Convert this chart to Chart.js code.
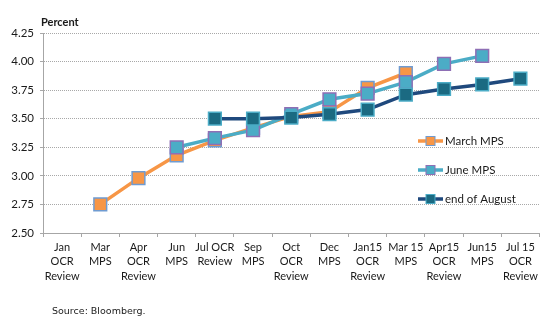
<!DOCTYPE html>
<html>
<head>
<meta charset="utf-8">
<script src="https://cdn.jsdelivr.net/npm/chart.js@4.4.1/dist/chart.umd.min.js"></script>
<style>
  html, body { margin: 0; padding: 0; background: #fff; }
  #wrap { position: relative; width: 550px; height: 327px; }
</style>
</head>
<body>
<div id="wrap"><canvas id="ocrChart" width="550" height="327"></canvas></div>
<script>
// OCR track expectations, percent
const categories = [
  ['Jan', 'OCR', 'Review'], ['Mar', 'MPS'], ['Apr', 'OCR', 'Review'], ['Jun', 'MPS'],
  ['Jul OCR', 'Review'], ['Sep', 'MPS'], ['Oct', 'OCR', 'Review'], ['Dec', 'MPS'],
  ['Jan15', 'OCR', 'Review'], ['Mar 15', 'MPS'], ['Apr15', 'OCR', 'Review'], ['Jun15', 'MPS'],
  ['Jul 15', 'OCR', 'Review']
];
const marchMps   = [null, 2.75, 2.98, 3.18, 3.31, 3.42, 3.52, 3.56, 3.77, 3.90, null, null, null];
const juneMps    = [null, null, null, 3.25, 3.33, 3.40, 3.54, 3.67, 3.72, 3.82, 3.98, 4.05, null];
const endAugust  = [null, null, null, null, 3.50, 3.50, 3.51, 3.54, 3.58, 3.71, 3.76, 3.80, 3.85];
const seriesNames = ['March MPS', 'June MPS', 'end of August'];
const yMin = 2.5, yMax = 4.25, yStep = 0.25;

const FONT = 'Lato, "Liberation Sans", sans-serif';
const INK = '#1a1a1a';
const styles = [
  { line: '#F79646', fill: '#F79646', edge: '#6F9BD1' },
  { line: '#4BACC6', fill: '#4BACC6', edge: '#8E6FB5' },
  { line: '#1F497D', fill: '#1B6A82', edge: '#4BACC6' }
];

function series(i, data) {
  return {
    label: seriesNames[i],
    data: data,
    borderColor: styles[i].line,
    backgroundColor: styles[i].fill,
    borderWidth: 3.5,
    pointStyle: 'rect',
    pointRadius: 9,
    pointHoverRadius: 9,
    pointBackgroundColor: styles[i].fill,
    pointBorderColor: styles[i].edge,
    pointBorderWidth: 1.5,
    tension: 0,
    spanGaps: false,
    order: 3 - i
  };
}

// axis caption, source note and the in-plot legend
const extras = {
  id: 'extras',
  afterDraw(chart) {
    const ctx = chart.ctx;
    ctx.save();
    ctx.fillStyle = INK;
    ctx.textBaseline = 'middle';
    ctx.textAlign = 'left';
    ctx.font = 'bold 11px ' + FONT;
    ctx.fillText('Percent', 41, 22);
    ctx.font = '9.5px "DejaVu Sans", sans-serif';
    ctx.fillText('Source: Bloomberg.', 52, 312);

    const rows = [141, 170, 199];
    ctx.font = '11.5px ' + FONT;
    styles.forEach((s, i) => {
      const y = rows[i];
      ctx.strokeStyle = s.line;
      ctx.lineWidth = 3.5;
      ctx.beginPath();
      ctx.moveTo(418, y);
      ctx.lineTo(443, y);
      ctx.stroke();
      ctx.fillStyle = s.fill;
      ctx.fillRect(426, y - 4.5, 9, 9);
      ctx.strokeStyle = s.edge;
      ctx.lineWidth = 1;
      ctx.strokeRect(426, y - 4.5, 9, 9);
      ctx.fillStyle = INK;
      ctx.fillText(seriesNames[i], 445, y);
    });
    ctx.restore();
  }
};

new Chart(document.getElementById('ocrChart'), {
  type: 'line',
  data: {
    labels: categories,
    datasets: [series(0, marchMps), series(1, juneMps), series(2, endAugust)]
  },
  options: {
    responsive: false,
    animation: false,
    layout: { padding: { top: 33, right: 8, left: 0, bottom: 0 } },
    plugins: { legend: { display: false }, tooltip: { enabled: false } },
    scales: {
      x: {
        offset: true,
        afterFit: s => { s.height = 94; },
        grid: { offset: true, drawOnChartArea: false, drawTicks: true, tickLength: 4, color: '#a6a6a6' },
        border: { color: '#a6a6a6', width: 1 },
        ticks: {
          color: INK, font: { family: FONT, size: 11, lineHeight: 1.32 },
          padding: 3, maxRotation: 0, autoSkip: false
        }
      },
      y: {
        min: yMin, max: yMax,
        afterFit: s => { s.width = 43; },
        grid: { color: '#a8a8a8', lineWidth: 1, drawTicks: true, tickLength: 3 },
        border: { color: '#a6a6a6', width: 1, dash: [1, 1] },
        ticks: {
          stepSize: yStep, color: INK, padding: 6,
          font: { family: FONT, size: 11.5 },
          callback: v => v.toFixed(2)
        }
      }
    }
  },
  plugins: [extras]
});
</script>
</body>
</html>
